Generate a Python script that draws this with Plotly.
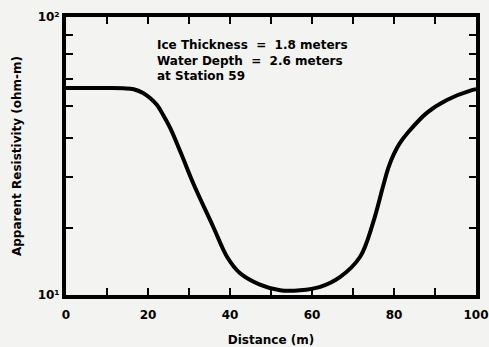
import plotly.graph_objects as go

# Apparent resistivity profile along the survey line
distance_m = [0, 5, 10, 14, 16.5, 18.8, 20.5, 22.2, 23.7, 25.4, 28.0, 31.0, 35.9, 39.3, 42.4, 47.3,
              52.2, 57.1, 62.0, 66.8, 71.7, 74.9, 77.3, 78.6, 79.9, 81.5, 83.4, 88.0, 92.9, 99.0, 100]
resistivity_ohm_m = [55.5, 55.5, 55.5, 55.4, 55.0, 53.3, 51.1, 48.2, 44.4, 39.9, 32.5, 25.3, 17.6, 13.7, 12.0, 10.9,
                     10.4, 10.4, 10.7, 11.6, 13.7, 18.2, 24.5, 28.6, 32.0, 35.3, 38.4, 45.2, 50.3, 54.6, 55.0]

x_ticks = [0, 20, 40, 60, 80, 100]
y_tick_vals = [10, 100]
y_tick_text = ["10¹", "10²"]
note_lines = ["Ice Thickness  =  1.8 meters", "Water Depth  =  2.6 meters", "at Station 59"]

FONT = "DejaVu Sans"
BG = "#f3f3f1"

fig = go.Figure()
fig.add_trace(go.Scatter(
    x=distance_m, y=resistivity_ohm_m, mode="lines",
    line=dict(color="black", width=4, shape="spline", smoothing=1.0),
    hoverinfo="skip", showlegend=False,
))

fig.add_annotation(
    x=0, y=1, xref="paper", yref="paper", xanchor="left", yanchor="top",
    xshift=89, yshift=-19,
    text="<br>".join(f"<b>{s}</b>" for s in note_lines),
    showarrow=False, align="left",
    font=dict(family=FONT, size=12, color="black"),
)

axis_common = dict(
    showline=True, linecolor="black", linewidth=4, mirror="allticks",
    ticks="inside", ticklen=7, tickwidth=2, tickcolor="black",
    showgrid=False, zeroline=False, automargin=False,
    tickfont=dict(family=FONT, size=12, color="black"),
    title_font=dict(family=FONT, size=12, color="black"),
)

fig.update_xaxes(
    range=[0, 100], tickmode="array", tickvals=x_ticks,
    ticktext=[f"<b>{v}</b>" for v in x_ticks],
    minor=dict(dtick=10, ticks="inside", ticklen=7, tickwidth=2, tickcolor="black"),
    ticklabelstandoff=6,
    title_text="<b>Distance (m)</b>", title_standoff=16,
    **axis_common,
)
fig.update_yaxes(
    type="log", range=[1, 2], tickmode="array", tickvals=y_tick_vals,
    ticktext=[f"<b>{t}</b>" for t in y_tick_text],
    minor=dict(tickvals=[17.4, 26.6, 36.7, 47.8, 59.8, 73.6, 86.1],
               ticks="inside", ticklen=7, tickwidth=2, tickcolor="black"),
    title_text="<b>Apparent Resistivity (ohm-m)</b>", title_standoff=14,
    **axis_common,
)

fig.update_layout(
    width=489, height=347,
    margin=dict(l=66, r=13, t=17, b=52),
    paper_bgcolor=BG, plot_bgcolor=BG,
)

fig.write_html("out.html")
